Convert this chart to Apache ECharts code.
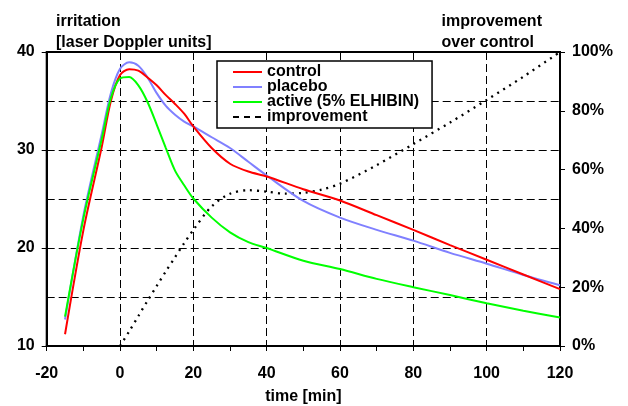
<!DOCTYPE html>
<html><head><meta charset="utf-8">
<script src="https://cdn.jsdelivr.net/npm/echarts@6/dist/echarts.min.js"></script>
<style>html,body{margin:0;padding:0;background:#fff}#c{width:628px;height:406px}</style>
</head><body><div id="c"></div>
<script>
var time = [-15,-10,-5,-2.5,0,2.5,5,7.5,10,12.5,15,17.5,20,25,30,35,40,50,60,70,80,90,100,110,120];
var control = [11.2,21.8,30.3,35.0,37.65,38.25,38.1,37.4,36.6,35.6,34.7,33.7,32.4,30.2,28.6,27.8,27.3,26.0,24.85,23.35,21.85,20.3,18.8,17.3,15.8];
var placebo = [12.7,23.3,31.6,35.8,38.3,38.95,38.6,37.4,35.8,34.5,33.6,32.9,32.4,31.3,30.2,28.8,27.4,24.8,23.1,21.85,20.75,19.5,18.4,17.25,16.2];
var active = [13.0,23.0,31.1,35.3,37.3,37.45,36.6,34.9,32.6,30.2,27.9,26.4,25.05,23.1,21.6,20.6,20.0,18.7,17.85,16.85,16.0,15.2,14.36,13.6,12.9];
var timeImp = [0,2.5,5,7.5,10,12.5,15,17.5,20,25,30,35,40,45,50,55,60,70,80,90,100,110,120];
var improvement = [0,5,10.2,15.4,20.4,25.4,30.2,35,39.5,47.5,51.8,53,52.5,51.8,52.1,53.2,55.2,61.5,68.7,76,83.7,91.6,100];
var names = ['control','placebo','active (5% ELHIBIN)','improvement'];

function pairs(xs, ys){ return xs.map(function(x,i){ return [x, ys[i]]; }); }
var FONT = '"Liberation Sans", Arial, sans-serif';
var lbl = {color:'#000', fontFamily:FONT, fontWeight:'bold', fontSize:16};
var dash = {color:'#000', width:1, type:[8,4]};

var chart = echarts.init(document.getElementById('c'), null, {renderer:'canvas'});
chart.setOption({
  animation:false,
  backgroundColor:'#fff',
  title:[
    {text:'irritation\n[laser Doppler units]', left:56, top:11, padding:0, textStyle:{color:'#000', fontFamily:FONT, fontWeight:'bold', fontSize:16, lineHeight:21}},
    {text:'improvement\nover control', left:441.5, top:11, padding:0, textStyle:{color:'#000', fontFamily:FONT, fontWeight:'bold', fontSize:16, lineHeight:21}}
  ],
  grid:{left:46.7, right:68, top:52, bottom:60, outerBoundsMode:'none', containLabel:false, show:true, borderColor:'#000', borderWidth:2, backgroundColor:'transparent'},
  legend:{
    orient:'vertical', left:217, top:61, itemWidth:29, itemHeight:10, itemGap:-1,
    padding:[3,13,3,15], backgroundColor:'#fff', borderColor:'#000', borderWidth:1.5, borderRadius:0,
    itemStyle:{opacity:0},
    textStyle:{color:'#000', fontFamily:FONT, fontWeight:'bold', fontSize:16, lineHeight:15},
    data:[
      {name:names[0]},{name:names[1]},{name:names[2]},
      {name:names[3], lineStyle:{type:[6,5], width:2, color:'#000'}}
    ]
  },
  xAxis:{
    type:'value', min:-20, max:120, interval:20,
    name:'time [min]', nameLocation:'middle', nameGap:43, nameTextStyle:lbl,
    axisLine:{show:true, onZero:false, lineStyle:{color:'#000', width:2}},
    axisTick:{show:true, inside:false, length:5, lineStyle:{color:'#000', width:1}},
    minorTick:{show:true, splitNumber:2, length:5, lineStyle:{color:'#000', width:1}},
    axisLabel:Object.assign({margin:20}, lbl),
    splitLine:{show:true, lineStyle:dash}
  },
  yAxis:[
    {
      type:'value', min:10, max:40, interval:10, position:'left',
      axisLine:{show:true, onZero:false, lineStyle:{color:'#000', width:2}},
      axisTick:{show:true, inside:false, length:5, lineStyle:{color:'#000', width:1}},
      minorTick:{show:false, splitNumber:2},
      axisLabel:Object.assign({margin:12, padding:[4,0,0,0]}, lbl),
      splitLine:{show:true, lineStyle:dash},
      minorSplitLine:{show:true, lineStyle:dash}
    },
    {
      type:'value', min:0, max:100, interval:20, position:'right',
      axisLine:{show:true, onZero:false, lineStyle:{color:'#000', width:2}},
      axisTick:{show:true, inside:false, length:5, lineStyle:{color:'#000', width:1}},
      axisLabel:Object.assign({margin:12, padding:[4,0,0,0], formatter:'{value}%'}, lbl),
      splitLine:{show:false}
    }
  ],
  series:[
    {name:names[0], type:'line', yAxisIndex:0, data:pairs(time, control), smooth:0.3, symbol:'none', lineStyle:{color:'#ff0000', width:2}, itemStyle:{color:'#ff0000'}, z:4},
    {name:names[1], type:'line', yAxisIndex:0, data:pairs(time, placebo), smooth:0.3, symbol:'none', lineStyle:{color:'#8080ff', width:2}, itemStyle:{color:'#8080ff'}, z:3},
    {name:names[2], type:'line', yAxisIndex:0, data:pairs(time, active), smooth:0.3, symbol:'none', lineStyle:{color:'#00ff00', width:2}, itemStyle:{color:'#00ff00'}, z:5},
    {name:names[3], type:'line', yAxisIndex:1, data:pairs(timeImp, improvement), smooth:0.3, symbol:'none', lineStyle:{color:'#000', width:2.3, type:[2,5]}, itemStyle:{color:'#000'}, z:2}
  ]
});
</script></body></html>
